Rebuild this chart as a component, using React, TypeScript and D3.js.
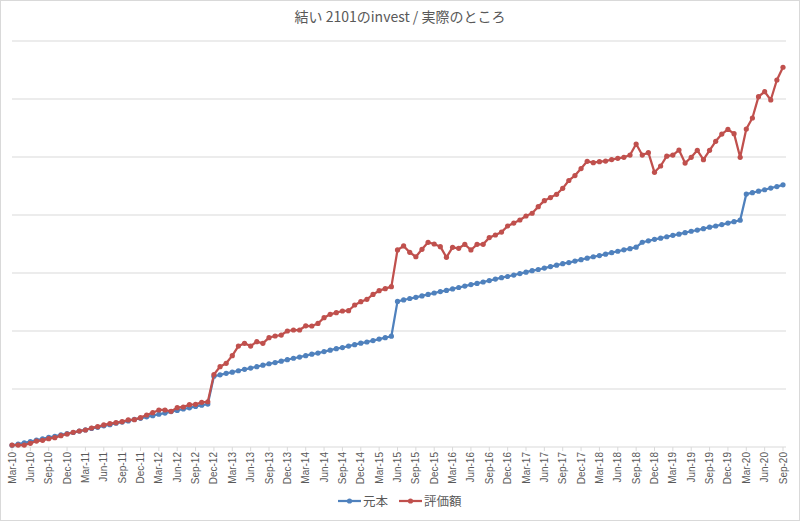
import React, { useEffect, useRef } from "react";
import * as d3 from "d3";

// Mar-10 .. Sep-20, one category per month
const months = d3.timeMonths(new Date(2010, 2, 1), new Date(2020, 9, 1));
const categories = months.map((d) => d3.timeFormat("%b-%y")(d));

const seriesNames = ["元本", "評価額"];
const seriesColors = ["#4F81BD", "#C0504D"];

// 元本 (arbitrary units: 100 per gridline)
const principal = [
  3, 5, 7, 9.5, 12, 14, 16.5, 18.5, 21, 23,
  25, 27.5, 29.5, 32, 34, 36.5, 38.5, 41, 43, 45,
  47.5, 49.5, 52, 54, 56.5, 58.5, 61, 63, 65.5, 67.5,
  70, 72, 74,
  122, 124.5, 127, 129, 131.5, 134, 136, 138.5, 141, 143.5,
  145.5, 148, 150.5, 153, 155, 157.5, 160, 162, 164.5, 167,
  169.5, 171.5, 174, 176.5, 179, 181, 183.5, 186, 188.5, 191,
  251, 253.5, 256, 258, 260.5, 263, 265.5, 268, 270, 272.5,
  275, 277.5, 280, 282, 284.5, 287, 289.5, 292, 294, 296.5,
  299, 301.5, 304, 306, 308.5, 311, 313.5, 316, 318, 320.5,
  323, 325.5, 328, 330, 332.5, 335, 337.5, 340, 342, 344.5,
  353, 355.5, 358, 360, 362.5, 365, 367, 369.5, 372, 374,
  376.5, 379, 381, 383.5, 386, 388.5, 391,
  436, 438.5, 441, 443.5, 446.5, 449, 452,
];

// 評価額
const valuation = [
  3.4, 3.4, 3.4, 6.3, 10.3, 11.5, 14.4, 16, 19.5, 22.4,
  25.3, 27.6, 29.3, 32.8, 35, 38, 40.2, 42, 43.7, 46.6,
  47.1, 50.6, 55.2, 59.2, 63.8, 63.8, 61.5, 67.8, 69, 73,
  73.6, 77, 78,
  125, 138.5, 144.3, 157.5, 174, 178.7, 174, 181.6, 178.7, 188.5,
  191.4, 193, 200, 201.7, 201.7, 209, 208.6, 213, 223, 228.8,
  231.6, 234.5, 235, 244.8, 250.5, 254.6, 263, 269.5, 273, 276.4,
  339.7, 346.6, 335.6, 328, 340.8, 352.9, 350, 345.4, 327, 344.3,
  342.6, 349.4, 339.7, 349.4, 349.4, 361, 365.5, 370.5, 381, 386,
  391.4, 398.3, 403, 414.4, 424.7, 430, 435.6, 446, 459.5, 468,
  480, 492.5, 490.2, 492, 493, 495.5, 497.7, 499.5, 503.4, 522.4,
  503.4, 507.5, 473.6, 484.5, 501.5, 503.4, 512, 489.5, 499.5, 511.5,
  495.4, 511.5, 527, 539.5, 547.5, 540.3, 499.5,
  548.3, 567.2, 604, 612.6, 598.3, 632.8, 654.7,
];

const gridValues = [100, 200, 300, 400, 500, 600, 700];

const W = 800;
const H = 521;

function drawChart(el: SVGSVGElement) {
  const svg = d3.select(el);
  svg.selectAll("*").remove();

  const x = d3.scalePoint<string>().domain(categories).range([12, 783]);
  const y = d3.scaleLinear().domain([0, 700]).range([447, 41]);

  // chart area
  svg
    .append("rect")
    .attr("x", 0.5)
    .attr("y", 0.5)
    .attr("width", W - 1)
    .attr("height", H - 1)
    .attr("fill", "#fff")
    .attr("stroke", "#D9D9D9");

  // title
  svg
    .append("text")
    .attr("x", 400)
    .attr("y", 22)
    .attr("text-anchor", "middle")
    .attr("font-family", "'Noto Sans CJK JP', sans-serif")
    .attr("font-size", 14)
    .attr("fill", "#595959")
    .text("結い 2101のinvest / 実際のところ");

  // gridlines
  svg
    .append("g")
    .selectAll("line")
    .data(gridValues)
    .enter()
    .append("line")
    .attr("x1", 12)
    .attr("x2", 786)
    .attr("y1", (d) => y(d))
    .attr("y2", (d) => y(d))
    .attr("stroke", "#D9D9D9")
    .attr("stroke-width", 1);

  // category axis
  const axis = svg.append("g");
  axis
    .append("line")
    .attr("x1", 12)
    .attr("x2", 786)
    .attr("y1", y(0))
    .attr("y2", y(0))
    .attr("stroke", "#D9D9D9");

  const shown = categories.filter((_, i) => i % 3 === 0);
  axis
    .selectAll("line.tick")
    .data(shown)
    .enter()
    .append("line")
    .attr("class", "tick")
    .attr("x1", (d) => x(d)!)
    .attr("x2", (d) => x(d)!)
    .attr("y1", y(0))
    .attr("y2", y(0) + 4)
    .attr("stroke", "#D9D9D9");

  axis
    .selectAll("text")
    .data(shown)
    .enter()
    .append("text")
    .attr("transform", (d) => `translate(${x(d)! + 3.5},${y(0) + 5}) rotate(-90)`)
    .attr("text-anchor", "end")
    .attr("font-family", "'Liberation Sans', Arial, sans-serif")
    .attr("font-size", 10)
    .attr("fill", "#595959")
    .text((d) => d);

  // series
  const allSeries = [principal, valuation];
  const line = d3
    .line<number>()
    .x((_, i) => x(categories[i])!)
    .y((d) => y(d));

  allSeries.forEach((values, s) => {
    const g = svg.append("g");
    g.append("path")
      .datum(values)
      .attr("d", line)
      .attr("fill", "none")
      .attr("stroke", seriesColors[s])
      .attr("stroke-width", 2.25)
      .attr("stroke-linejoin", "round");
    g.selectAll("circle")
      .data(values)
      .enter()
      .append("circle")
      .attr("cx", (_, i) => x(categories[i])!)
      .attr("cy", (d) => y(d))
      .attr("r", 2.6)
      .attr("fill", seriesColors[s]);
  });

  // legend
  const legendItems = [
    { name: seriesNames[0], color: seriesColors[0], x0: 338 },
    { name: seriesNames[1], color: seriesColors[1], x0: 399 },
  ];
  const legend = svg.append("g");
  legendItems.forEach((it) => {
    legend
      .append("line")
      .attr("x1", it.x0)
      .attr("x2", it.x0 + 23)
      .attr("y1", 501)
      .attr("y2", 501)
      .attr("stroke", it.color)
      .attr("stroke-width", 2.25);
    legend
      .append("circle")
      .attr("cx", it.x0 + 11.5)
      .attr("cy", 501)
      .attr("r", 2.6)
      .attr("fill", it.color);
    legend
      .append("text")
      .attr("x", it.x0 + 25)
      .attr("y", 506)
      .attr("font-family", "'Noto Sans CJK JP', sans-serif")
      .attr("font-size", 12.5)
      .attr("fill", "#595959")
      .text(it.name);
  });
}

export default function App() {
  const ref = useRef<SVGSVGElement>(null);
  useEffect(() => {
    if (ref.current) drawChart(ref.current);
  }, []);
  return (
    <svg
      ref={ref}
      width={W}
      height={H}
      style={{ position: "absolute", left: 0, top: 0, display: "block" }}
    />
  );
}
